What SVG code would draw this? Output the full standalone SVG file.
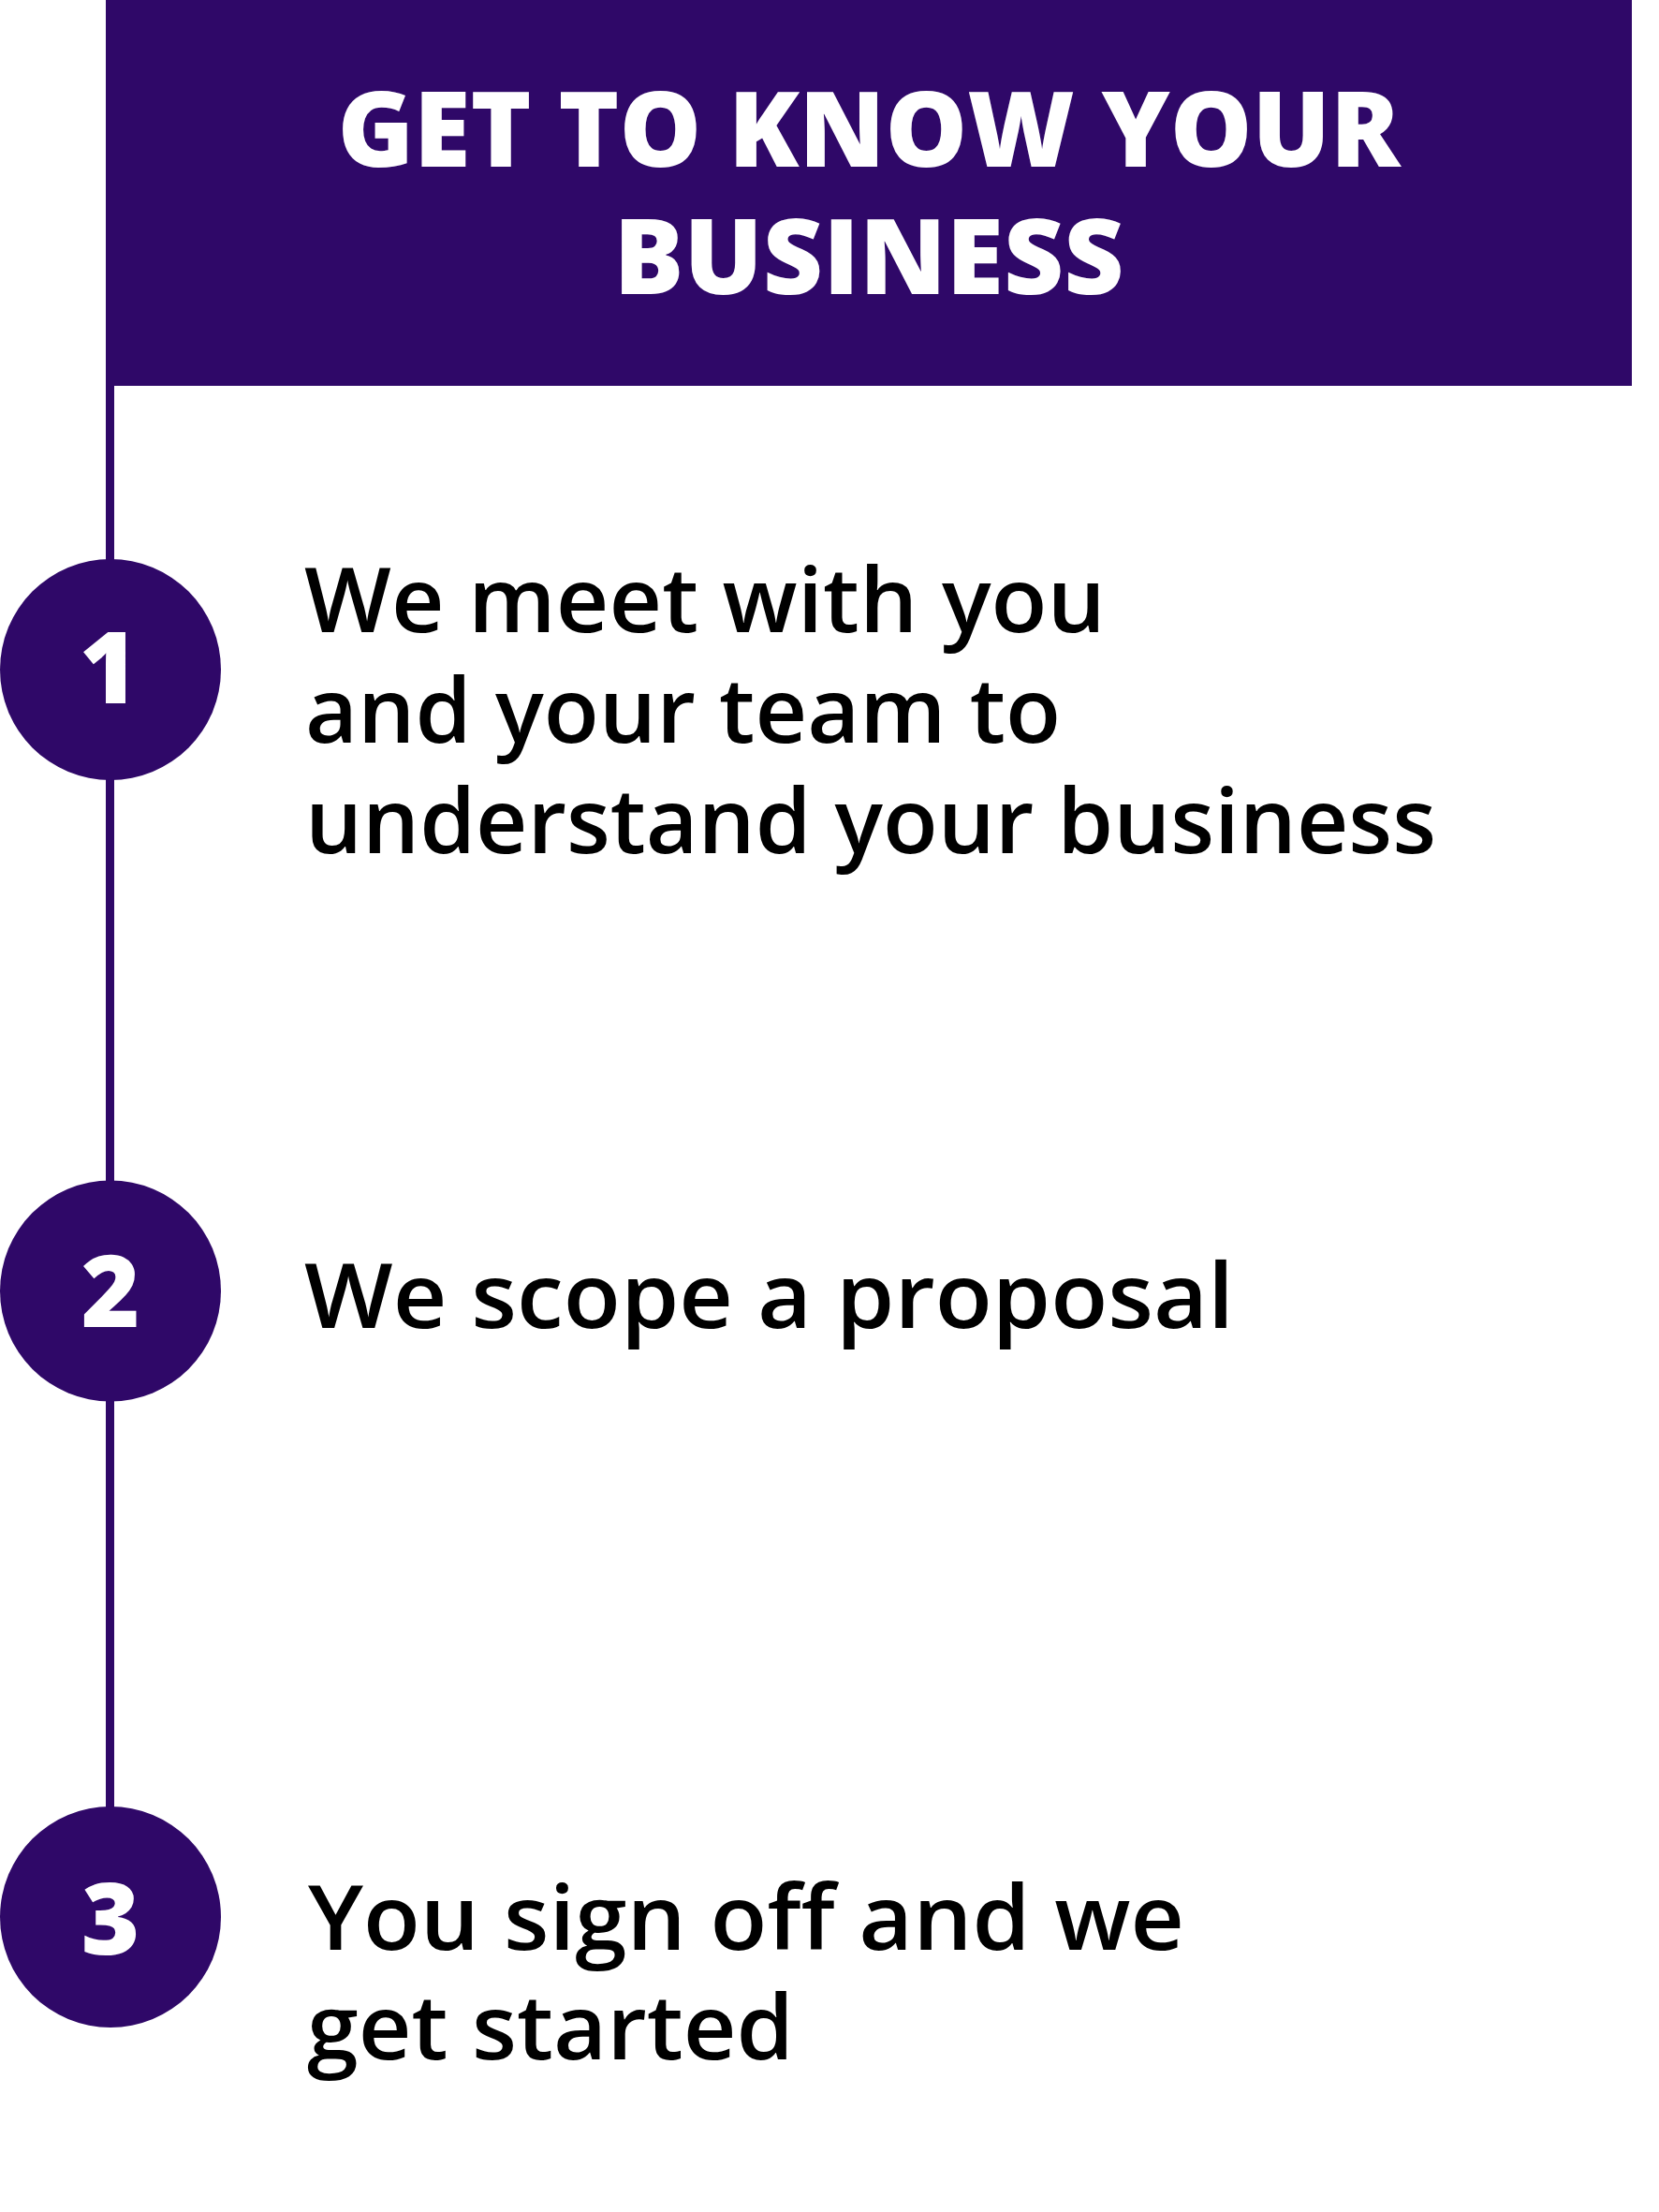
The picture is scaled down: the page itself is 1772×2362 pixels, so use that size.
<svg xmlns="http://www.w3.org/2000/svg" width="1772" height="2362" viewBox="0 0 1772 2362">
<style>
.bg{fill:#ffffff}
.purple{fill:#2f0868}
.conn{stroke:#2f0868;stroke-width:9;fill:none}
.head{font-family:"Open Sans","Liberation Sans",sans-serif;font-weight:800;font-size:112px;fill:#ffffff;text-anchor:middle}
.num{font-family:"Open Sans","Liberation Sans",sans-serif;font-weight:800;font-size:107px;fill:#ffffff;text-anchor:middle}
.body{font-family:"Open Sans","Liberation Sans",sans-serif;font-weight:600;font-size:96px;fill:#000000}
</style>
<rect class="bg" x="0" y="0" width="1772" height="2362"/>
<g id="connectors">
<line class="conn" x1="117.5" y1="300" x2="117.5" y2="600"/>
<line class="conn" x1="117.5" y1="830" x2="117.5" y2="1264"/>
<line class="conn" x1="117.5" y1="1493" x2="117.5" y2="1932"/>
</g>
<g id="header">
<rect class="purple" x="113" y="0" width="1630" height="412"/>
<text class="head" x="928" y="178" textLength="1135" lengthAdjust="spacingAndGlyphs">GET TO KNOW YOUR</text>
<text class="head" x="928" y="314" textLength="545" lengthAdjust="spacingAndGlyphs">BUSINESS</text>
</g>
<g id="step1">
<circle class="purple" cx="118" cy="715" r="118"/>
<text class="num" x="116" y="751">1</text>
<text class="body" x="325" y="675" textLength="856" lengthAdjust="spacingAndGlyphs">We meet with you</text>
<text class="body" x="326" y="793" textLength="807" lengthAdjust="spacingAndGlyphs">and your team to</text>
<text class="body" x="326" y="911" textLength="1208" lengthAdjust="spacingAndGlyphs">understand your business</text>
</g>
<g id="step2">
<circle class="purple" cx="118" cy="1378.5" r="118"/>
<text class="num" x="118" y="1417">2</text>
<text class="body" x="325" y="1418" textLength="993" lengthAdjust="spacingAndGlyphs">We scope a proposal</text>
</g>
<g id="step3">
<circle class="purple" cx="118" cy="2047" r="118"/>
<text class="num" x="118" y="2087">3</text>
<text class="body" x="329" y="2082" textLength="936" lengthAdjust="spacingAndGlyphs">You sign off and we</text>
<text class="body" x="328" y="2199" textLength="520" lengthAdjust="spacingAndGlyphs">get started</text>
</g>
</svg>
